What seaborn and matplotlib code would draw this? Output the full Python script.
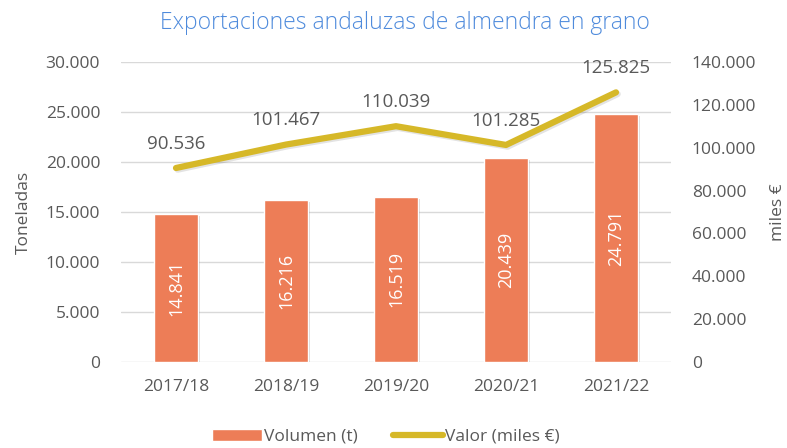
import matplotlib
matplotlib.use("Agg")
import matplotlib.pyplot as plt
import matplotlib.patheffects as pe
from matplotlib.lines import Line2D
from matplotlib.patches import Patch
from matplotlib.ticker import FuncFormatter, MultipleLocator
import numpy as np
import pandas as pd
import seaborn as sns

seasons = ["2017/18", "2018/19", "2019/20", "2020/21", "2021/22"]
volumen = [14841, 16216, 16519, 20439, 24791]
valor = [90536, 101467, 110039, 101285, 125825]

BAR_COLOR = "#ED7D57"
LINE_COLOR = "#D6B828"
TEXT = "#595959"
GRID = "#D9D9D9"

sns.set_theme(style="white")
plt.rcParams["font.family"] = ["Open Sans", "DejaVu Sans"]


def miles(x, pos=None):
    return f"{int(round(x)):,}".replace(",", ".")


df = pd.DataFrame({"season": seasons, "volumen": volumen, "valor": valor})

fig = plt.figure(figsize=(7.87, 4.48), dpi=100)
ax = fig.add_axes([121 / 787, 1 - 362 / 448, 550 / 787, 300 / 448])

shadow = [pe.SimplePatchShadow(offset=(1.5, -1.5), shadow_rgbFace="#000000", alpha=0.15), pe.Normal()]
sns.barplot(data=df, x="season", y="volumen", color=BAR_COLOR, width=0.4, saturation=1, ax=ax, zorder=3)
for bar in ax.patches:
    bar.set_path_effects(shadow)
ax.set_xlim(-0.5, 4.5)
ax.set_ylim(0, 30000)
ax.yaxis.set_major_locator(MultipleLocator(5000))
ax.yaxis.set_major_formatter(FuncFormatter(miles))
ax.grid(axis="y", color=GRID, linewidth=1, zorder=0)
ax.set_axisbelow(True)
for s in ax.spines.values():
    s.set_visible(False)
ax.tick_params(axis="both", length=0, labelsize=12.5, labelcolor=TEXT)
ax.tick_params(axis="y", pad=15)
ax.tick_params(axis="x", pad=12)
ax.set_xlabel("")
ax.set_ylabel("Toneladas", fontsize=12.5, color=TEXT, labelpad=10)

for i, v in enumerate(volumen):
    ax.text(i, v / 2, miles(v), rotation=90, ha="center", va="center",
            color="white", fontsize=13, zorder=5)

ax2 = ax.twinx()
sns.lineplot(x=np.arange(len(seasons)), y=valor, color=LINE_COLOR, linewidth=4.5,
             ax=ax2, zorder=4, solid_capstyle="round",
             path_effects=[pe.SimpleLineShadow(offset=(1.2, -1.2), alpha=0.12), pe.Normal()])
ax2.set_ylim(0, 140000)
ax2.yaxis.set_major_locator(MultipleLocator(20000))
ax2.yaxis.set_major_formatter(FuncFormatter(miles))
ax2.grid(False)
for s in ax2.spines.values():
    s.set_visible(False)
ax2.tick_params(axis="y", length=0, labelsize=12.5, labelcolor=TEXT, pad=15)
ax2.set_ylabel("miles €", fontsize=12.5, color=TEXT, labelpad=10)

for i, v in enumerate(valor):
    ax2.annotate(miles(v), (i, v), xytext=(0, 11), textcoords="offset points",
                 ha="center", va="bottom", color=TEXT, fontsize=13.5)

fig.text(0.515, 0.948, "Exportaciones andaluzas de almendra en grano", ha="center", va="center",
         color="#4F8BDC", fontsize=16.5, fontweight="light")

handles = [Patch(facecolor=BAR_COLOR, label="Volumen (t)"),
           Line2D([0], [0], color=LINE_COLOR, linewidth=4.5, label="Valor (miles €)")]
fig.legend(handles=handles, loc="center", bbox_to_anchor=(0.49, 0.025), ncol=2, frameon=False,
           fontsize=12.5, labelcolor=TEXT, handlelength=2.9, handletextpad=0.1, columnspacing=2.0)

fig.savefig("out.png", dpi=100)
